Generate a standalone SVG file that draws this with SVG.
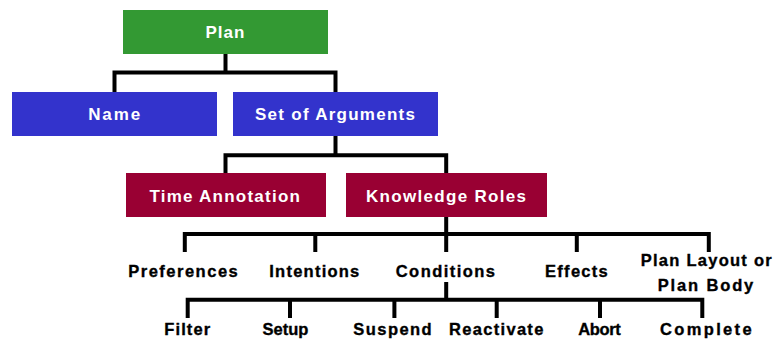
<svg xmlns="http://www.w3.org/2000/svg" width="778" height="339" viewBox="0 0 778 339">
<style>
.bx{font-family:"Liberation Sans",Arial,Helvetica,sans-serif;font-weight:bold;font-size:17px;fill:#ffffff;text-anchor:middle}
.lb{font-family:"Liberation Sans",Arial,Helvetica,sans-serif;font-weight:bold;font-size:16.5px;fill:#000000;stroke:#000000;stroke-width:0.35px;text-anchor:middle}
.g{fill:#339933}
.b{fill:#3333cc}
.r{fill:#990033}
.c{fill:none;stroke:#000000;stroke-width:4;stroke-linejoin:miter;stroke-linecap:butt}
</style>
<rect width="778" height="339" fill="#ffffff"/>
<g id="connectors" class="c">
<path d="M225.5,54V72.5M114.5,92V72.5H335.5V92"/>
<path d="M335.5,136V155.3M225.5,173V155.3H446.2V173"/>
<path d="M446.2,217V234M184.8,252V234H708.8V252M315.3,234V252M446.2,234V252M576.8,234V252"/>
<path d="M446.2,282V299.7M187.7,318V299.7H702.3V318M290,299.7V318M394.4,299.7V318M496.7,299.7V318M600,299.7V318"/>
</g>
<g id="plan"><rect class="g" x="123" y="10" width="205" height="44"/><text class="bx" x="225" y="38" textLength="39" lengthAdjust="spacing">Plan</text></g>
<g id="name"><rect class="b" x="12" y="92" width="205" height="44"/><text class="bx" x="114.2" y="120" textLength="52" lengthAdjust="spacing">Name</text></g>
<g id="set-of-arguments"><rect class="b" x="233" y="92" width="205" height="44"/><text class="bx" x="335" y="120" textLength="160" lengthAdjust="spacing">Set of Arguments</text></g>
<g id="time-annotation"><rect class="r" x="126" y="173" width="200" height="44"/><text class="bx" x="224.7" y="202" textLength="150.5" lengthAdjust="spacing">Time Annotation</text></g>
<g id="knowledge-roles"><rect class="r" x="346" y="173" width="201" height="44"/><text class="bx" x="446" y="202" textLength="160" lengthAdjust="spacing">Knowledge Roles</text></g>
<g id="preferences"><text class="lb" x="183" y="277" textLength="109.5" lengthAdjust="spacing">Preferences</text></g>
<g id="intentions"><text class="lb" x="314.3" y="277" textLength="90" lengthAdjust="spacing">Intentions</text></g>
<g id="conditions"><text class="lb" x="445.4" y="277" textLength="99.3" lengthAdjust="spacing">Conditions</text></g>
<g id="effects"><text class="lb" x="576.4" y="277" textLength="62.7" lengthAdjust="spacing">Effects</text></g>
<g id="plan-layout"><text class="lb" x="706.2" y="265.7" textLength="131" lengthAdjust="spacing">Plan Layout or</text><text class="lb" x="705.5" y="290.7" textLength="95.6" lengthAdjust="spacing">Plan Body</text></g>
<g id="filter"><text class="lb" x="187.2" y="335.3" textLength="45.7" lengthAdjust="spacing">Filter</text></g>
<g id="setup"><text class="lb" x="285.4" y="335.3">Setup</text></g>
<g id="suspend"><text class="lb" x="392.5" y="335.3" textLength="78.4" lengthAdjust="spacing">Suspend</text></g>
<g id="reactivate"><text class="lb" x="496.2" y="335.3" textLength="94.3" lengthAdjust="spacing">Reactivate</text></g>
<g id="abort"><text class="lb" x="599.5" y="335.3" textLength="42.4" lengthAdjust="spacing">Abort</text></g>
<g id="complete"><text class="lb" x="705.8" y="335.3" textLength="91.7" lengthAdjust="spacing">Complete</text></g>
</svg>
